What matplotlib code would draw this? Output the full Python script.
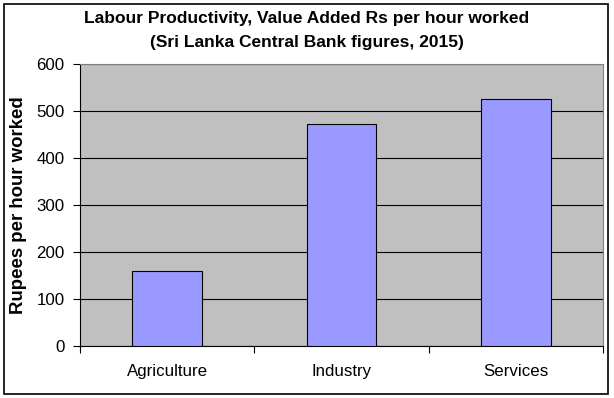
import numpy as np
import matplotlib.pyplot as plt
from matplotlib.patches import Rectangle

sectors = ['Agriculture', 'Industry', 'Services']
rs_per_hour = [159, 472, 525]
yticks = [0, 100, 200, 300, 400, 500, 600]

plt.rcParams['font.family'] = ['Liberation Sans', 'DejaVu Sans']

fig = plt.figure(figsize=(6.14, 3.98), dpi=100)
ax = fig.add_axes([80 / 614, 1 - 346 / 398, (603 - 80) / 614, (346 - 64) / 398])

x = np.arange(len(sectors))
ax.bar(x, rs_per_hour, width=0.4, color='#9999FF', edgecolor='black', linewidth=0.8, zorder=3)

ax.set_facecolor('#C0C0C0')
ax.set_xlim(-0.5, len(sectors) - 0.5)
ax.set_ylim(0, 600)
ax.set_yticks(yticks)
ax.yaxis.grid(True, color='black', linewidth=0.8, zorder=1)
ax.set_axisbelow(True)

# category labels between boundary ticks
ax.set_xticks(np.arange(len(sectors) + 1) - 0.5)
ax.set_xticklabels([])
ax.set_xticks(x, minor=True)
ax.set_xticklabels(sectors, minor=True, fontsize=12.2)
ax.tick_params(axis='x', which='minor', length=0, pad=13)
ax.tick_params(axis='x', which='major', length=5, width=0.8)
ax.tick_params(axis='y', length=5, width=0.8, labelsize=12.2, pad=6)

for side in ['top', 'right']:
    ax.spines[side].set_color('#808080')
for side in ['left', 'bottom']:
    ax.spines[side].set_color('black')
    ax.spines[side].set_linewidth(0.8)

ax.set_ylabel('Rupees per hour worked', fontsize=13.4, fontweight='bold', labelpad=7)
fig.text(0.5, 1 - 18 / 398, 'Labour Productivity, Value Added Rs per hour worked',
         ha='center', va='center', fontsize=12.5, fontweight='bold')
fig.text(0.5, 1 - 42 / 398, '(Sri Lanka Central Bank figures, 2015)',
         ha='center', va='center', fontsize=12.5, fontweight='bold')

fig.patches.append(Rectangle((4 / 614, 4 / 398), 604 / 614, 390 / 398,
                             transform=fig.transFigure, fill=False,
                             edgecolor='black', linewidth=1.2))

fig.savefig('out.png', dpi=100)
